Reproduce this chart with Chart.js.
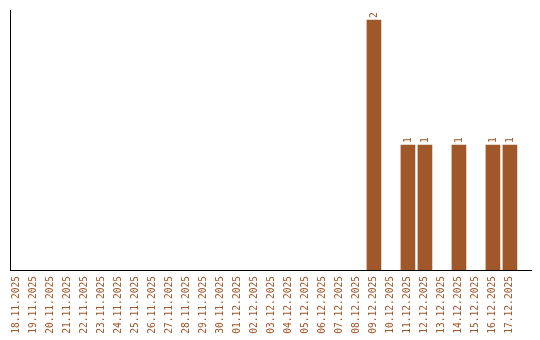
<!DOCTYPE html>
<html>
<head>
<meta charset="utf-8">
<script src="https://cdn.jsdelivr.net/npm/chart.js@4/dist/chart.umd.min.js"></script>
<style>
  html, body { margin: 0; padding: 0; background: #fff; }
  #wrap { width: 540px; height: 340px; }
</style>
</head>
<body>
<div id="wrap"><canvas id="chart" width="540" height="340"></canvas></div>
<script>
// Data
const dates = [
  '18.11.2025', '19.11.2025', '20.11.2025', '21.11.2025', '22.11.2025',
  '23.11.2025', '24.11.2025', '25.11.2025', '26.11.2025', '27.11.2025',
  '28.11.2025', '29.11.2025', '30.11.2025', '01.12.2025', '02.12.2025',
  '03.12.2025', '04.12.2025', '05.12.2025', '06.12.2025', '07.12.2025',
  '08.12.2025', '09.12.2025', '10.12.2025', '11.12.2025', '12.12.2025',
  '13.12.2025', '14.12.2025', '15.12.2025', '16.12.2025', '17.12.2025'
];
const counts = [
  0, 0, 0, 0, 0, 0, 0, 0, 0, 0,
  0, 0, 0, 0, 0, 0, 0, 0, 0, 0,
  0, 2, 0, 1, 1, 0, 1, 0, 1, 1
];

const brown = '#a0572a';
const mono = 'DejaVu Sans Mono';

// value labels above bars, rotated
const barLabels = {
    id: 'barLabels',
    afterDatasetsDraw(chart) {
        const c = chart.ctx;
        const meta = chart.getDatasetMeta(0);
        c.save();
        c.fillStyle = brown;
        c.font = `9.6px "${mono}"`;
        meta.data.forEach((bar, i) => {
            const v = counts[i];
            if (!v) return;
            c.save();
            c.translate(bar.x + 1, bar.y - 2);
            c.rotate(-Math.PI / 2);
            c.textAlign = 'left';
            c.textBaseline = 'middle';
            c.fillText(String(v), 0, 0);
            c.restore();
        });
        c.restore();
    }
};

const ctx = document.getElementById('chart').getContext('2d');
new Chart(ctx, {
    type: 'bar',
    data: {
        datasets: [{
            data: counts.map((v, i) => ({ x: i, y: v || null })),
            backgroundColor: brown,
            borderWidth: 0,
            barThickness: 14
        }]
    },
    options: {
        responsive: false,
        animation: false,
        layout: { padding: { left: 10, top: 10, right: 9, bottom: 0 } },
        plugins: {
            legend: { display: false },
            tooltip: { enabled: false }
        },
        scales: {
            x: {
                type: 'linear',
                offset: false,
                min: -0.41,
                max: 30.24,
                afterFit: (s) => {
                    s.height = 70;
                    s.paddingLeft = 0;
                    s.paddingRight = 0;
                },
                afterBuildTicks: (s) => { s.ticks = dates.map((d, i) => ({ value: i })); },
                grid: { display: false, drawTicks: false },
                border: { display: true, color: '#000', width: 1 },
                ticks: {
                    autoSkip: false,
                    minRotation: 90,
                    maxRotation: 90,
                    padding: 6,
                    color: brown,
                    font: { family: mono, size: 9.6 },
                    callback: (v) => dates[v]
                }
            },
            y: {
                min: 0,
                max: 2.08,
                afterFit: (s) => { s.width = 0; },
                grid: { display: false },
                border: { display: true, color: '#000', width: 1 },
                ticks: { display: false }
            }
        }
    },
    plugins: [barLabels]
});
</script>
</body>
</html>
